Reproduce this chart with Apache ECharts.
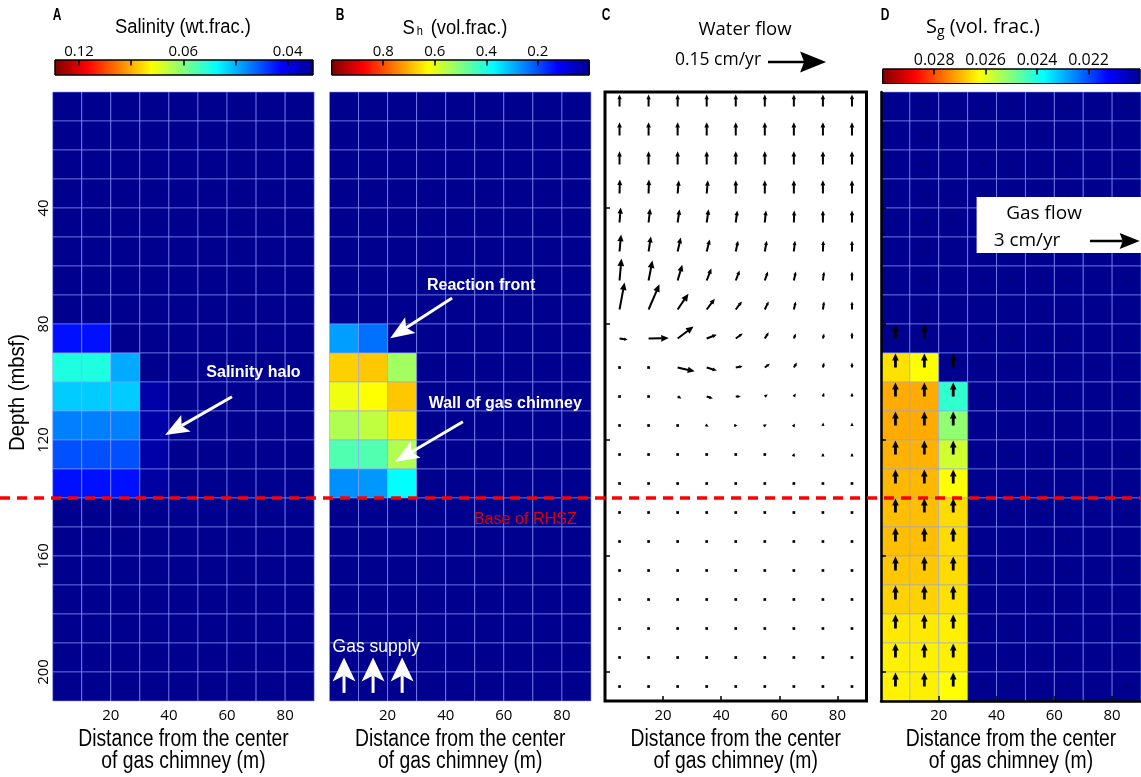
<!DOCTYPE html>
<html><head><meta charset="utf-8">
<script src="https://cdn.jsdelivr.net/npm/echarts@6/dist/echarts.min.js"></script>
<style>html,body{margin:0;padding:0;background:#fff}#c{width:1141px;height:777px}</style>
</head><body><div id="c"></div>
<script>
// ================= DATA =================
const distanceCenters = [5, 15, 25, 35, 45, 55, 65, 75, 85];            // m
const depthCenters = [5, 15, 25, 35, 45, 55, 65, 75, 85, 95, 105, 115, 125, 135, 145, 155, 165, 175, 185, 195, 205]; // mbsf
const distanceTicks = [20, 40, 60, 80];
const depthTicks = [40, 80, 120, 160, 200];
const rhszDepth = 140;

// A: salinity (wt. frac.)
const salinityBackground = 0.037;
const salinityAnomalyDepths = [85, 95, 105, 115, 125, 135];
const salinityAnomaly = [
  [0.0414, 0.0414, 0.0370, 0.0370],
  [0.0535, 0.0535, 0.0476, 0.0370],
  [0.0492, 0.0492, 0.0492, 0.0378],
  [0.0457, 0.0457, 0.0457, 0.0378],
  [0.0438, 0.0438, 0.0438, 0.0378],
  [0.0414, 0.0414, 0.0414, 0.0376]
];
const salinityRange = [0.156, 0.037];
const salinityTicks = [0.12, 0.08, 0.06, 0.048, 0.04];
const salinityTickLabels = ['0.12', '0.06', '0.04'];

// B: hydrate saturation Sh (vol. frac.)
const hydrateBackground = 0;
const hydrateAnomalyDepths = [85, 95, 105, 115, 125, 135];
const hydrateAnomaly = [
  [0.280, 0.235, 0.000],
  [0.671, 0.679, 0.532],
  [0.610, 0.625, 0.680],
  [0.547, 0.563, 0.647],
  [0.453, 0.455, 0.547],
  [0.265, 0.274, 0.375]
];
const hydrateRange = [1, 0];
const hydrateTicks = [0.8, 0.6, 0.4, 0.2];

// D: gas saturation Sg (vol. frac.)
const gasBackground = 0.020;
const gasAnomalyDepths = [95, 105, 115, 125, 135, 145, 155, 165, 175, 185, 195, 205];
const gasAnomaly = [
  [0.02655, 0.02625, 0.02000],
  [0.02708, 0.02708, 0.02422],
  [0.02708, 0.02708, 0.02516],
  [0.02700, 0.02700, 0.02579],
  [0.02695, 0.02695, 0.02625],
  [0.02688, 0.02688, 0.02660],
  [0.02688, 0.02688, 0.02660],
  [0.02680, 0.02680, 0.02660],
  [0.02670, 0.02670, 0.02655],
  [0.02647, 0.02647, 0.02640],
  [0.02640, 0.02640, 0.02640],
  [0.02637, 0.02640, 0.02625]
];
const gasRange = [0.030, 0.020];
const gasTicks = [0.028, 0.026, 0.024, 0.022];

// C: water flow (cm/yr), horizontal u and upward w, rows = depthCenters, cols = distanceCenters
const waterU = [
  [0, 0, 0, 0, 0, 0, 0, 0, 0],
  [0, 0, 0, 0, 0, 0, 0, 0, 0],
  [0, 0, 0, 0, 0, 0, 0, 0, 0],
  [0.001, 0.001, 0.003, 0.003, 0, 0, 0, 0, 0],
  [0.003, 0.004, 0.005, 0.005, 0.004, 0.003, 0.001, 0, 0],
  [0.004, 0.006, 0.008, 0.008, 0.006, 0.005, 0.003, 0.001, 0],
  [0.005, 0.010, 0.012, 0.012, 0.010, 0.008, 0.005, 0.003, 0],
  [0.013, 0.028, 0.028, 0.021, 0.016, 0.010, 0.005, 0.003, 0],
  [0.021, 0.052, 0.041, 0.026, 0.018, 0.010, 0.005, 0.003, 0],
  [0, 0, 0.044, 0.026, 0.018, 0.013, 0.008, 0.003, 0],
  [0, 0, 0.010, 0.016, 0.013, 0.008, 0.005, 0.003, 0],
  [0, 0, 0, 0.005, 0.005, 0.005, 0.003, 0.001, 0],
  [0, 0, 0, 0, 0, 0.002, 0.001, 0, 0],
  [0, 0, 0, 0, 0, 0, 0, 0, 0],
  [0, 0, 0, 0, 0, 0, 0, 0, 0],
  [0, 0, 0, 0, 0, 0, 0, 0, 0],
  [0, 0, 0, 0, 0, 0, 0, 0, 0],
  [0, 0, 0, 0, 0, 0, 0, 0, 0],
  [0, 0, 0, 0, 0, 0, 0, 0, 0],
  [0, 0, 0, 0, 0, 0, 0, 0, 0],
  [0, 0, 0, 0, 0, 0, 0, 0, 0]
];
const waterW = [
  [0.031, 0.031, 0.031, 0.031, 0.031, 0.031, 0.031, 0.031, 0.031],
  [0.034, 0.034, 0.034, 0.034, 0.034, 0.034, 0.034, 0.034, 0.034],
  [0.034, 0.034, 0.034, 0.034, 0.034, 0.034, 0.034, 0.034, 0.034],
  [0.036, 0.036, 0.034, 0.034, 0.034, 0.034, 0.034, 0.034, 0.034],
  [0.039, 0.036, 0.034, 0.034, 0.031, 0.031, 0.031, 0.031, 0.031],
  [0.044, 0.039, 0.036, 0.031, 0.028, 0.028, 0.028, 0.028, 0.028],
  [0.057, 0.052, 0.041, 0.031, 0.026, 0.023, 0.023, 0.023, 0.023],
  [0.070, 0.065, 0.041, 0.028, 0.021, 0.021, 0.021, 0.021, 0.021],
  [-0.003, 0.001, 0.031, 0.010, 0.013, 0.016, 0.013, 0.013, 0.016],
  [0, 0, -0.010, -0.008, 0.003, 0.010, 0.013, 0.013, 0.013],
  [0, 0, -0.005, -0.005, 0, 0.005, 0.008, 0.010, 0.010],
  [0, 0, 0, -0.003, 0, 0.003, 0.005, 0.008, 0.008],
  [0, 0, 0, 0, 0, 0.003, 0.004, 0.004, 0.004],
  [0, 0, 0, 0, 0, 0, 0, 0, 0],
  [0, 0, 0, 0, 0, 0, 0, 0, 0],
  [0, 0, 0, 0, 0, 0, 0, 0, 0],
  [0, 0, 0, 0, 0, 0, 0, 0, 0],
  [0, 0, 0, 0, 0, 0, 0, 0, 0],
  [0, 0, 0, 0, 0, 0, 0, 0, 0],
  [0, 0, 0, 0, 0, 0, 0, 0, 0],
  [0, 0, 0, 0, 0, 0, 0, 0, 0]
];
const waterRefSpeed = 0.15; // cm/yr

// D: gas flow (cm/yr, upward) in the three inner columns (other columns: no flow)
const gasFlowW = [
  [0, 0, 0], [0, 0, 0], [0, 0, 0], [0, 0, 0], [0, 0, 0], [0, 0, 0], [0, 0, 0], [0, 0, 0],
  [0.84, 0.84, 0],
  [0.84, 0.84, 0.86], [0.84, 0.84, 0.84], [0.84, 0.84, 0.84], [0.84, 0.84, 0.84],
  [0.84, 0.84, 0.84], [0.84, 0.84, 0.84], [0.84, 0.84, 0.84], [0.84, 0.84, 0.84],
  [0.84, 0.84, 0.84], [0.84, 0.84, 0.84], [0.84, 0.84, 0.84], [0.84, 0.84, 0.84]
];
const gasRefSpeed = 3; // cm/yr

// ================= BUILD =================
const jet = ['#00008f', '#0000ff', '#0080ff', '#00ffff', '#80ff80', '#ffff00', '#ff8000', '#ff0000', '#800000'];
const jetRev = jet.slice().reverse();
const ARIAL = "'Liberation Sans',Arial,sans-serif";
const SANS = "'Open Sans','Noto Sans',sans-serif";

function buildGrid(bg, depths, anomaly) {
  const out = [];
  depthCenters.forEach(function (d) {
    const k = depths.indexOf(d);
    distanceCenters.forEach(function (x, j) {
      const v = (k >= 0 && j < anomaly[k].length) ? anomaly[k][j] : bg;
      out.push([x, d, v]);
    });
  });
  return out;
}
const salinityData = buildGrid(salinityBackground, salinityAnomalyDepths, salinityAnomaly).map(p => [p[0], p[1], p[2], 1 / p[2]]);
const hydrateData = buildGrid(hydrateBackground, hydrateAnomalyDepths, hydrateAnomaly);
const gasData = buildGrid(gasBackground, gasAnomalyDepths, gasAnomaly);
const waterData = [];
depthCenters.forEach((d, i) => distanceCenters.forEach((x, j) => waterData.push([x, d, waterU[i][j], waterW[i][j]])));
const gasFlowData = [];
depthCenters.forEach((d, i) => distanceCenters.forEach((x, j) => gasFlowData.push([x, d, 0, j < 3 ? gasFlowW[i][j] : 0])));

const K_WATER = 20 / waterRefSpeed;   // axis metres per cm/yr
const K_GAS = 17.2 / gasRefSpeed;

const PANEL_LEFT = [52.7, 329.5, 605, 881];
const PANEL_TOP = 92, PANEL_W = 261.5, PANEL_H = 609;

function cellRender(params, api) {
  const x = api.value(0), y = api.value(1);
  const p0 = api.coord([x - 5, y - 5]), p1 = api.coord([x + 5, y + 5]);
  return { type: 'rect', shape: { x: p0[0], y: p0[1], width: p1[0] - p0[0], height: p1[1] - p0[1] },
    style: { fill: api.visual('color'), stroke: 'rgba(140,160,255,0.55)', lineWidth: 1 } };
}
function makeArrowRender(K, opt) {
  return function (params, api) {
    const x = api.value(0), y = api.value(1), u = api.value(2), w = api.value(3);
    const p0 = api.coord([x, y]);
    const p1 = api.coord([x + u * K, y - w * K]);
    const dx = p1[0] - p0[0], dy = p1[1] - p0[1], len = Math.hypot(dx, dy);
    if (len < 1.5) {
      const s = opt.dot;
      return { type: 'rect', shape: { x: p0[0] - s / 2, y: p0[1] - s / 2, width: s, height: s }, style: { fill: opt.dotColor } };
    }
    const hl = Math.min(opt.hmax, Math.max(opt.hmin, len * 0.4)), hw = hl * opt.hwr;
    const ux = dx / len, uy = dy / len;
    const bx = p1[0] - ux * hl, by = p1[1] - uy * hl;
    return { type: 'group', children: [
      { type: 'line', shape: { x1: p0[0], y1: p0[1], x2: bx + ux * 0.5, y2: by + uy * 0.5 }, style: { stroke: '#000', lineWidth: opt.lw } },
      { type: 'polygon', shape: { points: [[p1[0], p1[1]], [bx - uy * hw / 2, by + ux * hw / 2], [bx + uy * hw / 2, by - ux * hw / 2]] }, style: { fill: '#000' } }
    ] };
  };
}
function cbarRender(params, api) {
  const a = api.coord([api.value(0), 0]), b = api.coord([api.value(1), 1]);
  const x0 = Math.min(a[0], b[0]), x1 = Math.max(a[0], b[0]);
  const y0 = Math.min(a[1], b[1]), y1 = Math.max(a[1], b[1]);
  return { type: 'rect', shape: { x: x0, y: y0, width: x1 - x0, height: y1 - y0 },
    style: { fill: new echarts.graphic.LinearGradient(0, 0, 1, 0, jetRev.map((c, i) => ({ offset: i / 8, color: c }))), stroke: '#000', lineWidth: 1 } };
}

const grids = PANEL_LEFT.map((l, i) => ({ left: l, top: PANEL_TOP, width: PANEL_W, height: PANEL_H,
  show: i === 2, backgroundColor: '#fff', borderColor: '#000', borderWidth: 3 }));
grids.push({ left: 55, top: 60, width: 258, height: 15 });
grids.push({ left: 331.7, top: 60, width: 257.6, height: 15 });
grids.push({ left: 882.7, top: 69, width: 257.3, height: 14.5 });
grids.push({ left: 0, right: 0, top: PANEL_TOP, height: PANEL_H });

const xAxes = [0, 1, 2, 3].map(i => ({
  gridIndex: i, type: 'value', min: 0, max: 90, position: 'bottom', z: 8,
  axisLine: { show: i === 3, onZero: false, lineStyle: { color: '#000', width: 2.5 } },
  axisTick: { show: i >= 2, inside: true, length: 5, lineStyle: { color: '#000', width: 1.5 }, customValues: distanceTicks },
  axisLabel: { customValues: distanceTicks, fontFamily: SANS, fontSize: 15, color: '#000', margin: 7 },
  splitLine: { show: false }
}));
const yAxes = [0, 1, 2, 3].map(i => ({
  gridIndex: i, type: 'value', min: 0, max: 210, inverse: true, position: 'left', z: 8,
  axisLine: { show: i === 3, onZero: false, lineStyle: { color: '#000', width: 2.5 } },
  axisTick: { show: i >= 2, inside: true, length: 5, lineStyle: { color: '#000', width: 1.5 }, customValues: depthTicks },
  axisLabel: { show: i === 0, rotate: 90, customValues: depthTicks, fontFamily: SANS, fontSize: 15, color: '#000', margin: 1 },
  splitLine: { show: false }
}));
function cbarAxis(gi, min, max, inverse, ticks, labelFmt, fs) {
  return { gridIndex: gi, type: 'value', min: min, max: max, inverse: inverse, position: 'top', z: 8,
    axisLine: { show: false, onZero: false }, splitLine: { show: false },
    axisTick: { inside: true, length: 5.5, lineStyle: { color: '#000', width: 1.5 }, customValues: ticks },
    axisLabel: { customValues: ticks, formatter: labelFmt, fontFamily: SANS, fontSize: fs, color: '#000', margin: 1 } };
}
xAxes.push(cbarAxis(4, 1 / salinityRange[0], 1 / salinityRange[1], false, salinityTicks.map(v => 1 / v),
  function (v) { const t = salinityTickLabels.find(l => Math.abs(parseFloat(l) - 1 / v) < 1e-6); return t || ''; }, 15));
xAxes.push(cbarAxis(5, hydrateRange[1], hydrateRange[0], true, hydrateTicks, v => v.toFixed(1), 15));
xAxes.push(cbarAxis(6, gasRange[1], gasRange[0], true, gasTicks, v => v.toFixed(3), 16));
xAxes.push({ gridIndex: 7, type: 'value', min: 0, max: 1, show: false });
[4, 5, 6, 7].forEach(g => yAxes.push({ gridIndex: g, type: 'value', min: 0, max: g === 7 ? 210 : 1, inverse: g === 7, show: false }));

const option = {
  animation: false,
  backgroundColor: '#fff',
  grid: grids, xAxis: xAxes, yAxis: yAxes,
  visualMap: [
    { show: false, seriesIndex: 0, dimension: 3, min: 1 / salinityRange[0], max: 1 / salinityRange[1], inRange: { color: jetRev } },
    { show: false, seriesIndex: 1, dimension: 2, min: hydrateRange[1], max: hydrateRange[0], inRange: { color: jet } },
    { show: false, seriesIndex: 3, dimension: 2, min: gasRange[1], max: gasRange[0], inRange: { color: jet } }
  ],
  series: [
    { type: 'custom', xAxisIndex: 0, yAxisIndex: 0, renderItem: cellRender, data: salinityData, silent: true },
    { type: 'custom', xAxisIndex: 1, yAxisIndex: 1, renderItem: cellRender, data: hydrateData, silent: true },
    { type: 'custom', xAxisIndex: 2, yAxisIndex: 2, data: waterData, silent: true,
      renderItem: makeArrowRender(K_WATER, { lw: 2, hmin: 3.5, hmax: 7.5, hwr: 0.9, dot: 2.7, dotColor: '#000' }) },
    { type: 'custom', xAxisIndex: 3, yAxisIndex: 3, renderItem: cellRender, data: gasData, silent: true },
    { type: 'custom', xAxisIndex: 3, yAxisIndex: 3, data: gasFlowData, silent: true, z: 7,
      renderItem: makeArrowRender(K_GAS, { lw: 2.8, hmin: 7, hmax: 7, hwr: 0.95, dot: 1.3, dotColor: 'rgba(0,0,0,0.7)' }) },
    { type: 'custom', xAxisIndex: 4, yAxisIndex: 4, renderItem: cbarRender, data: [[1 / salinityRange[0], 1 / salinityRange[1]]], silent: true },
    { type: 'custom', xAxisIndex: 5, yAxisIndex: 5, renderItem: cbarRender, data: [[hydrateRange[1], hydrateRange[0]]], silent: true },
    { type: 'custom', xAxisIndex: 6, yAxisIndex: 6, renderItem: cbarRender, data: [[gasRange[1], gasRange[0]]], silent: true },
    { type: 'line', xAxisIndex: 7, yAxisIndex: 7, z: 6, symbol: 'none', silent: true,
      data: [[0, rhszDepth], [1, rhszDepth]], lineStyle: { color: '#ff0000', width: 3.5, type: [10, 7] } }
  ]
};

const chart = echarts.init(document.getElementById('c'), null, { renderer: 'canvas' });
chart.setOption(option);

// ================= ANNOTATIONS & TEXT =================
const px = (gi, pt) => chart.convertToPixel({ gridIndex: gi }, pt);
function arrowEls(tail, tip, L, W, notch, stemW, color) {
  const dx = tip[0] - tail[0], dy = tip[1] - tail[1], len = Math.hypot(dx, dy);
  const ux = dx / len, uy = dy / len, nx = -uy, ny = ux;
  const bx = tip[0] - ux * L, by = tip[1] - uy * L;
  const cx = tip[0] - ux * (L - notch), cy = tip[1] - uy * (L - notch);
  return [
    { type: 'line', z: 100, silent: true, shape: { x1: tail[0], y1: tail[1], x2: cx, y2: cy }, style: { stroke: color, lineWidth: stemW } },
    { type: 'polygon', z: 100, silent: true, shape: { points: [tip, [bx + nx * W / 2, by + ny * W / 2], [cx, cy], [bx - nx * W / 2, by - ny * W / 2]] }, style: { fill: color } }
  ];
}
function txt(x, y, text, style, sx, rot) {
  return { type: 'text', z: 101, silent: true, x: x, y: y, scaleX: sx || 1, rotation: rot || 0,
    style: Object.assign({ x: 0, y: 0, text: text, align: 'center', verticalAlign: 'middle', fill: '#000' }, style) };
}
const NARROW_STYLE = { fontFamily: ARIAL, fontSize: 23 };
const g = [];
// panel letters
[['A', 57, 16], ['B', 340, 16], ['C', 606, 16], ['D', 885, 16]].forEach(a =>
  g.push(txt(a[1], a[2], a[0], { fontFamily: ARIAL, fontWeight: 'bold', fontSize: 16 }, 0.75)));
// axis names
[0, 1, 2, 3].forEach(i => {
  const cx = px(i, [45, 210])[0];
  g.push(txt(cx, 740, 'Distance from the center', NARROW_STYLE, 0.84));
  g.push(txt(cx, 762, 'of gas chimney (m)', NARROW_STYLE, 0.84));
});
g.push(txt(18, (px(0, [0, 0])[1] + px(0, [0, 210])[1]) / 2 - 4, 'Depth (mbsf)', { fontFamily: ARIAL, fontSize: 22 }, 0.92, Math.PI / 2));
// colorbar titles
g.push(txt(183, 27, 'Salinity (wt.frac.)', { fontFamily: ARIAL, fontSize: 20 }, 0.92));
g.push(txt(455, 28, '{t|S}{s|h}{t| (vol.frac.)}', { rich: { t: { fontFamily: ARIAL, fontSize: 20, fill: '#000' }, s: { fontFamily: ARIAL, fontSize: 12, fill: '#000', padding: [8, 3, 0, 2] } } }, 0.92));
g.push(txt(983, 27, '{t|S}{s|g}{t| (vol. frac.)}', { rich: { t: { fontFamily: SANS, fontSize: 20, fill: '#000' }, s: { fontFamily: SANS, fontSize: 14, fill: '#000', padding: [10, 0, 0, 0] } } }));
// water flow reference
g.push(txt(745, 30, 'Water flow', { fontFamily: SANS, fontSize: 18.5 }));
g.push(txt(718, 60, '0.15 cm/yr', { fontFamily: SANS, fontSize: 17.5 }));
const refLenW = px(2, [waterRefSpeed * K_WATER, 0])[0] - px(2, [0, 0])[0];
g.push(...arrowEls([768, 62], [768 + refLenW, 62], 26, 21, 4, 2.5, '#000'));
// gas flow reference box
const boxTL = px(3, [33.1, 36.2]), boxBR = px(3, [90, 55.5]);
g.push({ type: 'rect', z: 99, silent: true, shape: { x: boxTL[0], y: boxTL[1], width: 1141 - boxTL[0], height: boxBR[1] - boxTL[1] }, style: { fill: '#fff' } });
g.push(txt(1044, 214, 'Gas flow', { fontFamily: SANS, fontSize: 19 }));
g.push(txt(1027, 241, '3 cm/yr', { fontFamily: SANS, fontSize: 19 }));
const refLenG = px(3, [gasRefSpeed * K_GAS, 0])[0] - px(3, [0, 0])[0];
g.push(...arrowEls([1090, 241], [1090 + refLenG, 241], 20, 16, 3, 2.5, '#000'));
// panel A annotation
g.push(txt(...px(0, [69.1, 96.9]), 'Salinity halo', { fontFamily: ARIAL, fontWeight: 'bold', fontSize: 16, fill: '#fff' }));
g.push(...arrowEls(px(0, [61.7, 105.1]), px(0, [38.7, 118.3]), 24, 19, 5, 3, '#fff'));
// panel B annotations
g.push(txt(...px(1, [52.2, 66.6]), 'Reaction front', { fontFamily: ARIAL, fontWeight: 'bold', fontSize: 16, fill: '#fff' }));
g.push(...arrowEls(px(1, [42.2, 71.0]), px(1, [20.9, 84.9]), 24, 19, 5, 3, '#fff'));
g.push(txt(...px(1, [60.5, 107.6]), 'Wall of gas chimney', { fontFamily: ARIAL, fontWeight: 'bold', fontSize: 16, fill: '#fff' }));
g.push(...arrowEls(px(1, [45.9, 113.7]), px(1, [22.6, 127.5]), 24, 19, 5, 3, '#fff'));
g.push(txt(...px(1, [16.1, 191.4]), 'Gas supply', { fontFamily: ARIAL, fontSize: 19, fill: '#fff' }, 0.92));
[5, 15, 25].forEach(x => g.push(...arrowEls(px(1, [x, 207.2]), px(1, [x, 195.0]), 24, 23, 6, 3, '#fff')));
g.push(txt(...px(1, [67.4, 147.2]), 'Base of RHSZ', { fontFamily: ARIAL, fontSize: 17, fill: '#e00000' }, 0.95));
chart.setOption({ graphic: { elements: g } });
</script>
</body></html>
